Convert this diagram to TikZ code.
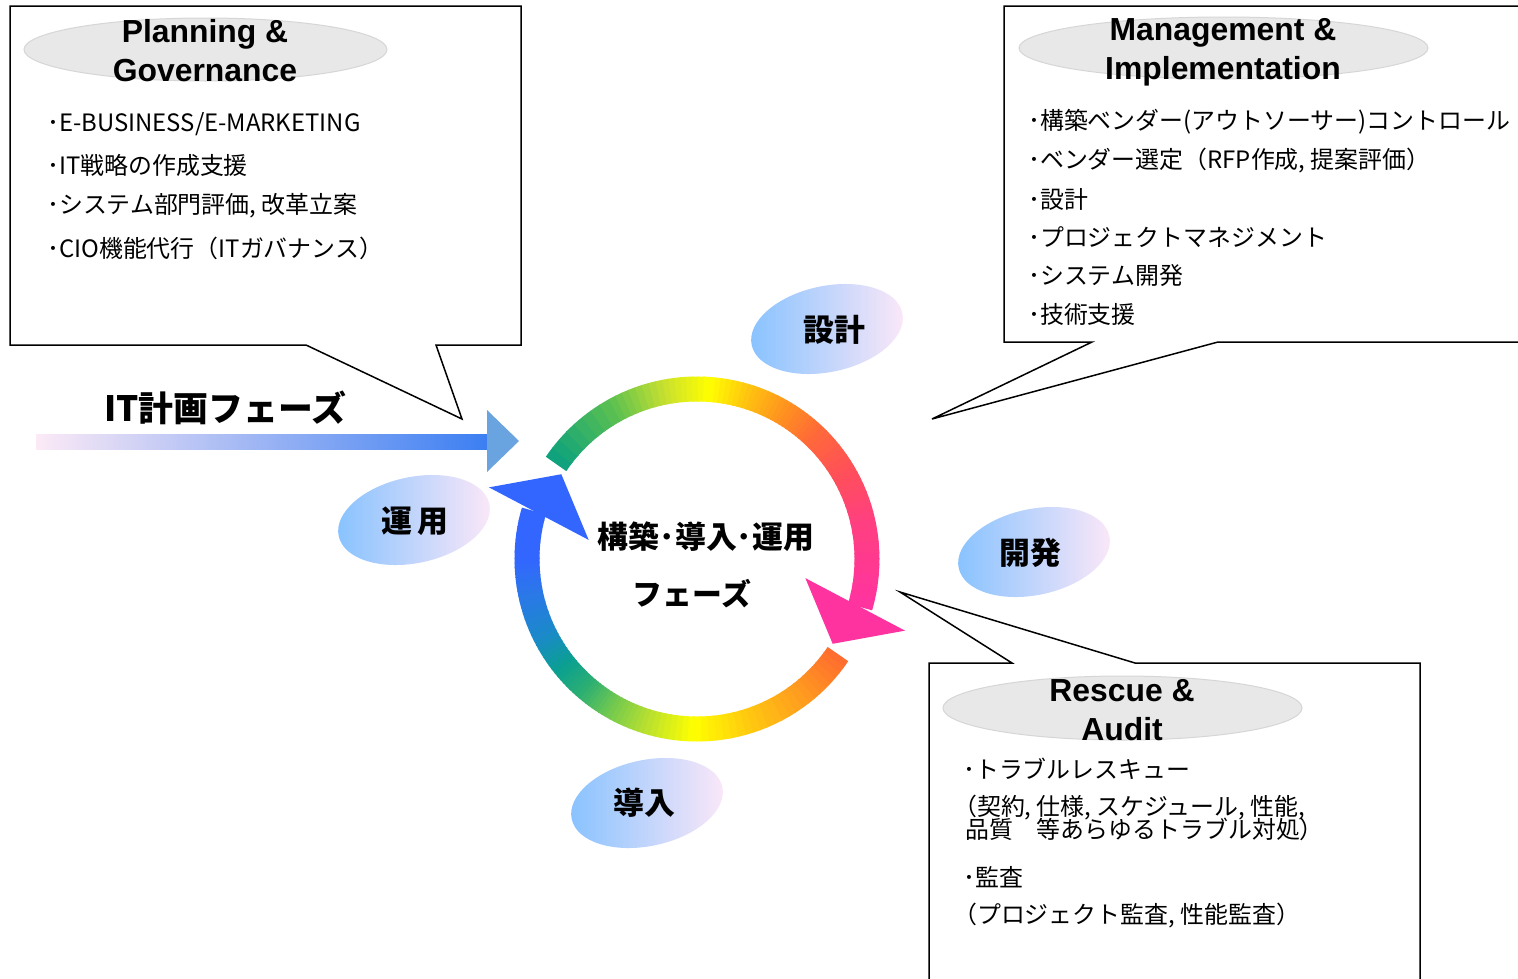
\documentclass[tikz,border=0pt]{standalone}
\usepackage{fontspec}
\setmainfont{Noto Sans CJK JP}
\newfontfamily\headfont{Liberation Sans}
\usetikzlibrary{shapes.geometric,positioning}
\definecolor{pillgray}{HTML}{E8E8E8}
\definecolor{pillline}{HTML}{D6D6D6}
\definecolor{skyb}{HTML}{86C2FF}
\definecolor{pinkw}{HTML}{FDE8F8}
\definecolor{barpink}{HTML}{FCEAF6}
\definecolor{barmid}{HTML}{A8CCF2}
\definecolor{barblue}{HTML}{3A7EF2}
\definecolor{headblue}{HTML}{6AA4E0}
\definecolor{tipblue}{HTML}{3366FF}
\definecolor{tippink}{HTML}{FF33A0}
% colour stops of the cycle
\definecolor{rA}{HTML}{0AA080}
\definecolor{rB}{HTML}{5CC050}
\definecolor{rC}{HTML}{C8E030}
\definecolor{rD}{HTML}{FFFF00}
\definecolor{rE}{HTML}{FFC010}
\definecolor{rF}{HTML}{FF9020}
\definecolor{rG}{HTML}{FF6A38}
\definecolor{rH}{HTML}{FF5058}
\definecolor{rI}{HTML}{FF4080}
\definecolor{rJ}{HTML}{FF33A0}
\definecolor{sA}{HTML}{FF6A30}
\definecolor{sB}{HTML}{FF9A20}
\definecolor{sC}{HTML}{FFC810}
\definecolor{sD}{HTML}{FFFF00}
\definecolor{sE}{HTML}{B8E030}
\definecolor{sF}{HTML}{70C850}
\definecolor{sG}{HTML}{30B070}
\definecolor{sH}{HTML}{0AA090}
\definecolor{sI}{HTML}{1A8AC8}
\definecolor{sJ}{HTML}{2A78E8}
\definecolor{sK}{HTML}{3366FF}
\tikzstyle{callout} = [draw=black, line width=1.5bp, fill=white, line join=miter]
\tikzstyle{pill} = [draw=pillline, fill=pillgray, line width=1bp]
\tikzstyle{headtxt} = [font=\headfont\bfseries\fontsize{32}{39}\selectfont, align=center, inner sep=0pt]
\tikzstyle{bodytxt} = [font=\fontsize{24}{28}\selectfont, anchor=west, inner sep=0pt]
\tikzstyle{phasefill} = [left color=skyb, right color=pinkw]
\tikzstyle{phasetxt} = [font=\bfseries\fontsize{31}{36}\selectfont, inner sep=0pt]
\tikzstyle{ring} = [line width=25bp]

\begin{document}
\begin{tikzpicture}[x=1bp,y=-1bp]
\useasboundingbox (0,0) rectangle (1518,978);
\clip (0,0) rectangle (1518,978);
\fill[white] (0,0) rectangle (1518,978);
%% callout boxes
\draw[callout] (10,6) -- (521,6) -- (521,345) -- (436,345) -- (462,419) -- (306,345) -- (10,345) -- cycle;
\draw[callout] (1004,6) -- (1530,6) -- (1530,342) -- (1218,342) -- (932,419) -- (1092,342) -- (1004,342) -- cycle;
\draw[callout] (929,663) -- (1012,663) -- (900,592) -- (1135,663) -- (1420,663) -- (1420,990) -- (929,990) -- cycle;
\path[pill] (205.5,49.5) ellipse [x radius=181.5, y radius=31.5];
\path[pill] (1223.5,48) ellipse [x radius=204.5, y radius=31];
\path[pill] (1122.5,708) ellipse [x radius=179.5, y radius=32];
\node[headtxt] (plantitle) at (205,51) {Planning \&\\Governance};
\node[headtxt] (mgmttitle) at (1223,52) {Management \&\\Implementation};
\node[headtxt] (rescuetitle) at (1122,710) {Rescue \&\\Audit};
%
\node[bodytxt] (plan1) at (47,124) {･E-BUSINESS/E-MARKETING};
\node[bodytxt] (plan2) at (47,165) {･IT戦略の作成支援};
\node[bodytxt] (plan3) at (47,206) {･システム部門評価, 改革立案};
\node[bodytxt] (plan4) at (47,248) {･CIO機能代行（ITガバナンス）};
%
\node[bodytxt] (mgmt1) at (1028,122) {･構築ベンダー(アウトソーサー)コントロール};
\node[bodytxt] (mgmt2) at (1028,161) {･ベンダー選定（RFP作成, 提案評価）};
\node[bodytxt] (mgmt3) at (1028,199) {･設計};
\node[bodytxt] (mgmt4) at (1028,237) {･プロジェクトマネジメント};
\node[bodytxt] (mgmt5) at (1028,276) {･システム開発};
\node[bodytxt] (mgmt6) at (1028,314) {･技術支援};
%
\node[bodytxt] (rescue1) at (963,769) {･トラブルレスキュー};
\node[bodytxt] (rescue2) at (953,808) {（契約, 仕様, スケジュール, 性能,};
\node[bodytxt] (rescue3) at (965,829) {品質　等あらゆるトラブル対処）};
\node[bodytxt] (rescue4) at (963,877) {･監査};
\node[bodytxt] (rescue5) at (953,916) {（プロジェクト監査, 性能監査）};
%% planning phase arrow
\shade[left color=barpink, middle color=barmid, right color=barblue] (36,434) rectangle (490,449);
\fill[headblue] (487,410) -- (519,441) -- (487,472) -- cycle;
\node[font=\bfseries\fontsize{35}{40}\selectfont, inner sep=0pt] (planphase) at (225,408) {IT計画フェーズ};
%% cycle
\begin{scope}[shift={(697,559)}]
\foreach \sa/\ea/\ca/\cb in {-34/-52/sA/sB, -52/-72/sB/sC, -72/-91/sC/sD, -91/-107/sD/sE,
    -107/-120/sE/sF, -120/-130/sF/sG, -130/-141/sG/sH, -141/-153/sH/sI,
    -153/-168/sI/sJ, -168/-180/sJ/sK, -180/-196/sK/sK,
    146/119/rA/rB, 119/101/rB/rC, 101/86/rC/rD, 86/72/rD/rE, 72/59/rE/rF,
    59/47/rF/rG, 47/31/rG/rH, 31/13/rH/rI, 13/-16/rI/rJ}{
  \foreach \k in {0,...,7}{
    \pgfmathsetmacro\ta{\sa+((\ea)-(\sa))*\k/8}
    \pgfmathsetmacro\tb{\sa+((\ea)-(\sa))*(\k+1)/8-0.4}
    \pgfmathtruncatemacro\pc{12.5*\k+6}
    \draw[ring, color=\cb!\pc!\ca] (\ta:170bp) arc[start angle=\ta, end angle=\tb, radius=170bp];
  }
}
\fill[tippink] (-10:110bp) -- (-19:220bp) -- (-32:160bp) -- cycle;
\fill[tipblue] (170:110bp) -- (161:220bp) -- (148:160bp) -- cycle;
\end{scope}
\node[phasetxt] (buildphase) at (706,537) {構築･導入･運用};
\node[phasetxt, font=\bfseries\fontsize{30}{36}\selectfont] (buildphase2) at (692,594) {フェーズ};
%% phase labels
\shade[phasefill, rotate around={12:(827,329)}] (827,329) ellipse [x radius=77, y radius=43];
\shade[phasefill, rotate around={12:(414,520)}] (414,520) ellipse [x radius=77, y radius=43];
\shade[phasefill, rotate around={12:(1034,552)}] (1034,552) ellipse [x radius=77, y radius=43];
\shade[phasefill, rotate around={12:(647,803)}] (647,803) ellipse [x radius=77, y radius=43];
\node[phasetxt] (design) at (834,330) {設計};
\node[phasetxt] (operate) at (415,521) {運\,用};
\node[phasetxt] (develop) at (1030,553) {開発};
\node[phasetxt] (deploy) at (644,803) {導入};
%
\end{tikzpicture}
\end{document}
